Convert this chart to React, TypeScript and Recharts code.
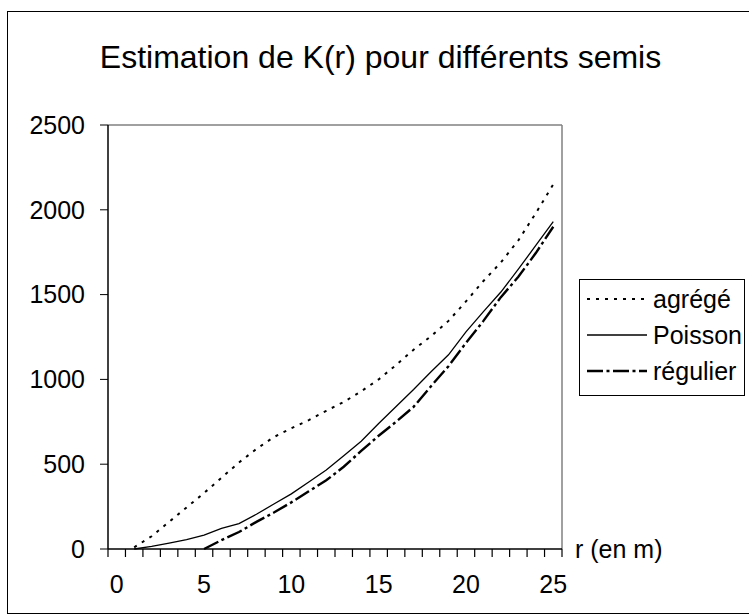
import { LineChart, Line, XAxis, YAxis, ReferenceLine } from 'recharts';

// r (en m), one category per metre
const rValues = [0, 1, 2, 3, 4, 5, 6, 7, 8, 9, 10, 11, 12, 13, 14, 15, 16, 17, 18, 19, 20, 21, 22, 23, 24, 25];
const agrege = [null, 10, 75, 160, 245, 330, 420, 510, 590, 660, 712, 760, 815, 867, 930, 1000, 1085, 1175, 1255, 1345, 1460, 1580, 1690, 1820, 1980, 2150];
const poisson = [null, 0, 15, 35, 55, 82, 122, 150, 205, 265, 325, 395, 466, 550, 635, 740, 840, 940, 1045, 1145, 1280, 1400, 1515, 1650, 1790, 1930];
const regulier = [null, null, null, null, null, 0, 52, 100, 160, 215, 275, 340, 405, 485, 578, 668, 750, 838, 960, 1078, 1215, 1345, 1485, 1605, 1745, 1900];

const yTicks = [0, 500, 1000, 1500, 2000, 2500];
const xLabels = [0, 5, 10, 15, 20, 25];
const title = 'Estimation de K(r) pour différents semis';
const xTitle = 'r (en m)';
const seriesNames = ['agrégé', 'Poisson', 'régulier'];

const data = rValues.map((r, i) => ({ r, agrege: agrege[i], poisson: poisson[i], regulier: regulier[i] }));
// Excel style: tick marks sit between categories, labels on the categories
const boundaryTicks = [...rValues.map(r => r - 0.5), 25.5];

const font = '"Liberation Sans", Arial, sans-serif';
const DOT = '3 6';
const DASH_DOT = '16 3.5 3 3.5';

export default function App() {
  return (
    <div style={{ position: 'absolute', left: 0, top: 0, width: 749, height: 616, overflow: 'hidden', background: '#fff', fontFamily: font }}>
      <div style={{ position: 'absolute', left: 7, top: 11, width: 760, height: 603, border: '1px solid #000', boxSizing: 'border-box' }} />
      <div style={{ position: 'absolute', left: 0, width: 761, top: 41, fontSize: 32, lineHeight: 1, textAlign: 'center', color: '#000' }}>{title}</div>

      <LineChart width={749} height={616} data={data} margin={{ top: 125, right: 187, bottom: 27, left: 0 }}
        style={{ position: 'absolute', left: 0, top: 0, fontFamily: font }}>
        {/* tick marks between categories */}
        <XAxis xAxisId="a" dataKey="r" type="number" domain={[-0.5, 25.5]} ticks={boundaryTicks} height={20}
          tickFormatter={() => ''} minTickGap={0} tickSize={8} tickLine={{ stroke: '#000', strokeWidth: 1.2 }}
          axisLine={{ stroke: '#000', strokeWidth: 1.5 }} />
        {/* labels on the categories */}
        <XAxis xAxisId="b" dataKey="r" type="number" domain={[-0.5, 25.5]} ticks={xLabels} height={20}
          axisLine={false} tickLine={false} tickSize={6} tickMargin={0}
          tick={{ fill: '#000', fontSize: 25, fontFamily: font }} />
        <YAxis type="number" domain={[0, 2500]} ticks={yTicks} width={108} interval={0}
          tickSize={8} tickMargin={15} tickLine={{ stroke: '#000' }} axisLine={{ stroke: '#000', strokeWidth: 1.5 }}
          tick={{ fill: '#000', fontSize: 25, fontFamily: font }} />
        <ReferenceLine xAxisId="a" y={2500} stroke="#808080" strokeWidth={1.5} />
        <ReferenceLine xAxisId="a" x={25.5} stroke="#808080" strokeWidth={1.5} />
        <Line xAxisId="a" type="linear" dataKey="agrege" name={seriesNames[0]} stroke="#000" strokeWidth={2}
          strokeDasharray={DOT} dot={false} activeDot={false} isAnimationActive={false} />
        <Line xAxisId="a" type="linear" dataKey="poisson" name={seriesNames[1]} stroke="#000" strokeWidth={1.3}
          dot={false} activeDot={false} isAnimationActive={false} />
        <Line xAxisId="a" type="linear" dataKey="regulier" name={seriesNames[2]} stroke="#000" strokeWidth={2.4}
          strokeDasharray={DASH_DOT} dot={false} activeDot={false} isAnimationActive={false} />
      </LineChart>

      <div style={{ position: 'absolute', left: 575, top: 537, fontSize: 25, lineHeight: 1, color: '#000', whiteSpace: 'nowrap' }}>{xTitle}</div>

      <div style={{ position: 'absolute', left: 579, top: 279, width: 166, height: 117, border: '1px solid #000', boxSizing: 'border-box', background: '#fff' }}>
        <svg width={166} height={117} style={{ position: 'absolute', left: -1, top: -1 }}>
          {seriesNames.map((name, i) => {
            const y = 20 + i * 36;
            const dash = i === 0 ? DOT : i === 2 ? DASH_DOT : undefined;
            const sw = i === 0 ? 2 : i === 2 ? 2.4 : 1.3;
            return (
              <g key={name}>
                <line x1={8} x2={68} y1={y} y2={y} stroke="#000" strokeWidth={sw} strokeDasharray={dash} />
                <text x={74} y={y} dy="0.355em" fontSize={25} fontFamily={font} fill="#000">{name}</text>
              </g>
            );
          })}
        </svg>
      </div>
    </div>
  );
}
